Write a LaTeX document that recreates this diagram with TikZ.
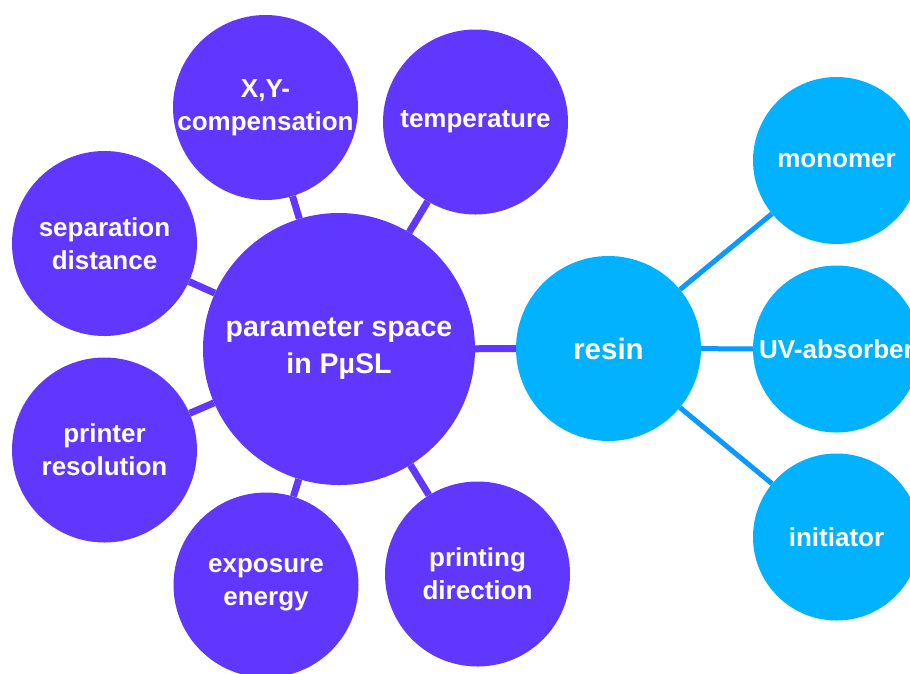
\documentclass[tikz,border=0pt]{standalone}
\usepackage{fontspec}
\setmainfont{Liberation Sans}
\usepackage{xcolor}
\usetikzlibrary{positioning}
\definecolor{bubblepurple}{HTML}{5F37FF}
\definecolor{bubbleblue}{HTML}{00B2FF}
\definecolor{linkblue}{HTML}{0A99FF}
\tikzset{
    bubble base/.style={
        circle,
        inner sep=0pt,
        align=center,
        text=white,
        font=\bfseries\fontsize{26}{33}\selectfont
    },
    bubble main/.style={bubble base, fill=bubblepurple, minimum size=272pt,
        font=\bfseries\fontsize{28.5}{37}\selectfont},
    bubble param/.style={bubble base, fill=bubblepurple, minimum size=185pt},
    bubble resin/.style={bubble base, fill=bubbleblue, minimum size=185pt,
        font=\bfseries\fontsize{29.5}{36}\selectfont},
    bubble comp/.style={bubble base, fill=bubbleblue, minimum size=167pt},
    link purple/.style={draw=bubblepurple, line width=7pt},
    link blue/.style={draw=linkblue, line width=5pt}
}

\begin{document}
\begin{tikzpicture}[x=1pt, y=-1pt]
\useasboundingbox (0,0) rectangle (910,673);
% parameter space
\node[bubble main] (ps) at (339,349) {parameter space\\in PµSL};
\node[bubble param] (xy) at (265.5,107.5) {X,Y-\\compensation};
\node[bubble param] (temp) at (475.5,122) {temperature};
\node[bubble param] (sep) at (104.5,243.5) {separation\\distance};
\node[bubble param] (res) at (104.5,450) {printer\\resolution};
\node[bubble param] (exp) at (266,585) {exposure\\energy};
\node[bubble param] (dir) at (477.5,574) {printing\\direction};
\foreach \n in {xy,temp,sep,res,exp,dir}
    \draw[link purple] (ps) -- (\n);

% resin side
\node[bubble resin] (resin) at (608.5,348.5) {resin};
\draw[link purple] (ps) -- (resin);
\node[bubble comp] (mono) at (836.5,160.5) {monomer};
\node[bubble comp] (uv) at (836.5,349) {UV-absorber};
\node[bubble comp] (init) at (836.5,537) {initiator};
\foreach \n in {mono,uv,init}
    \draw[link blue] (resin) -- (\n);
\end{tikzpicture}
\end{document}
